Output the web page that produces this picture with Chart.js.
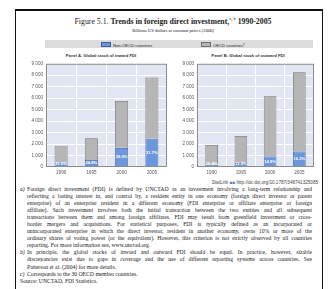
<!DOCTYPE html>
<html>
<head>
<meta charset="utf-8">
<title>Trends in foreign direct investment</title>
<script src="https://cdn.jsdelivr.net/npm/chart.js"></script>
<style>
  body { margin: 0; width: 332px; height: 289px; overflow: hidden; position: relative; background: #fff; font-family: "Liberation Serif", serif; color: #222; }
  #frame { position: absolute; left: 15px; top: 9px; width: 306px; height: 300px; border-top: 2px solid #111; border-left: 1.5px solid #111; border-right: 1.5px solid #111; }
  .abs { position: absolute; white-space: nowrap; }
  #title { left: 0; width: 346px; top: 16px; text-align: center; font-size: 7.8px; }
  #title sup { font-size: 4.5px; font-weight: normal; }
  #subtitle { left: 0; width: 346px; top: 28px; text-align: center; font-size: 4.6px; }
  #legend { left: 45px; top: 40px; width: 268px; height: 8px; background: #dcdcdc; }
  .key { position: absolute; top: 1.5px; font-family: "Liberation Sans", sans-serif; font-size: 4.2px; line-height: 5px; }
  .key i { display: inline-block; width: 8px; height: 3.5px; margin-right: 2px; vertical-align: -0.5px; border: 0.6px solid; }
  .ptitle { top: 53px; font-family: "Liberation Sans", sans-serif; font-weight: bold; font-size: 4.2px; transform: translateX(-50%); color: #333; }
  .wrap { position: absolute; }
  #stat { right: 14px; top: 180px; font-size: 4.6px; font-family: "Liberation Sans", sans-serif; color: #444; }
  #notes { position: absolute; left: 20px; top: 186px; width: 292px; font-size: 5.7px; line-height: 7.05px; }
  .fn { position: relative; padding-left: 7px; }
  .fn b { position: absolute; left: 0; font-weight: normal; font-style: italic; }
  .ln { display: block; text-align: justify; text-align-last: justify; white-space: nowrap; overflow: hidden; }
  .ln.last { text-align-last: left; }
</style>
</head>
<body>
<div id="frame"></div>

<div id="title" class="abs">Figure 5.1. <b>Trends in foreign direct investment,<sup>a, b</sup> 1990-2005</b></div>
<div id="subtitle" class="abs">Billions US dollars at constant prices (2000)</div>

<div id="legend" class="abs">
  <span class="key" style="left:56px"><i style="background:#6b98dc;border-color:#3b5b9c"></i>Non-OECD countries</span>
  <span class="key" style="left:156px"><i style="background:#b5b5b5;border-color:#6e6e6e"></i>OECD countries<sup style="font-size:3px">c</sup></span>
</div>

<div class="abs ptitle" style="left:101px">Panel A. Global stock of inward FDI</div>
<div class="abs ptitle" style="left:248px">Panel B. Global stock of outward FDI</div>

<div class="wrap" style="left:22px;top:58px"><canvas id="inward" width="148" height="120"></canvas></div>
<div class="wrap" style="left:173px;top:58px"><canvas id="outward" width="144" height="120"></canvas></div>

<div id="stat" class="abs"><i>StatLink</i> <b style="color:#5a7fb8">&#9632;&#9632;</b> http://dx.doi.org/10.1787/348741325085</div>

<div id="notes">
  <div class="fn"><b>a)</b>
    <span class="ln">Foreign direct investment (FDI) is defined by UNCTAD as an investment involving a long-term relationship and</span>
    <span class="ln">reflecting a lasting interest in, and control by, a resident entity in one economy (foreign direct investor or parent</span>
    <span class="ln">enterprise) of an enterprise resident in a different economy (FDI enterprise or affiliate enterprise or foreign</span>
    <span class="ln">affiliate). Such investment involves both the initial transaction between the two entities and all subsequent</span>
    <span class="ln">transactions between them and among foreign affiliates. FDI may result from greenfield investment or cross-</span>
    <span class="ln">border mergers and acquisitions. For statistical purposes, FDI is typically defined as an incorporated or</span>
    <span class="ln">unincorporated enterprise in which the direct investor, resident in another economy, owns 10% or more of the</span>
    <span class="ln">ordinary shares of voting power (or the equivalent). However, this criterion is not strictly observed by all countries</span>
    <span class="ln last">reporting. For more information see, www.unctad.org.</span>
  </div>
  <div class="fn"><b>b)</b>
    <span class="ln">In principle, the global stocks of inward and outward FDI should be equal. In practice, however, sizable</span>
    <span class="ln">discrepancies exist due to gaps in coverage and the use of different reporting systems across countries. See</span>
    <span class="ln last">Patterson et al. (2004) for more details.</span>
  </div>
  <div class="fn"><b>c)</b>
    <span class="ln last">Corresponds to the 30 OECD member countries.</span>
  </div>
  <div><span class="ln last">Source: UNCTAD, FDI Statistics.</span></div>
</div>

<script>
  // valeurs (milliards USD, prix 2000)
  const years = ['1990', '1995', '2000', '2005'];
  const yTicks = [0, 1000, 2000, 3000, 4000, 5000, 6000, 7000, 8000, 9000];

  const inwardNonOecd = [400, 620, 1670, 2470];
  const inwardOecd = [1450, 1880, 4090, 5330];
  const inwardShare = ['21.6%', '24.8%', '29.0%', '31.7%'];

  const outwardNonOecd = [200, 350, 920, 1350];
  const outwardOecd = [1730, 2350, 5250, 6920];
  const outwardShare = ['10.4%', '12.9%', '14.9%', '16.3%'];

  Chart.defaults.font.family = '"Liberation Sans", sans-serif';
  Chart.defaults.color = '#555';

  // fond bleuté + cadre de la zone de tracé
  const plotBg = {
    id: 'plotBg',
    beforeDraw(chart) {
      const { ctx, chartArea: a } = chart;
      ctx.save();
      ctx.fillStyle = '#e2e6f3';
      ctx.fillRect(a.left, a.top, a.width, a.height);
      ctx.restore();
    },
    afterDraw(chart) {
      const { ctx, chartArea: a } = chart;
      ctx.save();
      ctx.strokeStyle = '#8c8c8c';
      ctx.lineWidth = 1;
      ctx.strokeRect(a.left + 0.5, a.top + 0.5, a.width - 1, a.height - 1);
      ctx.restore();
    }
  };

  // pourcentages dans les segments non-OCDE
  const shareLabels = {
    id: 'shareLabels',
    afterDatasetsDraw(chart, args, opts) {
      const { ctx } = chart;
      const meta = chart.getDatasetMeta(0);
      ctx.save();
      ctx.font = 'bold 4.2px "Liberation Sans", sans-serif';
      ctx.fillStyle = '#ffffff';
      ctx.textAlign = 'center';
      ctx.textBaseline = 'middle';
      meta.data.forEach((bar, i) => {
        const y = Math.min((bar.y + bar.base) / 2, bar.base - 2.5);
        ctx.fillText(opts.labels[i], bar.x, y);
      });
      ctx.restore();
    }
  };

  function fmt(v) {
    return String(v).replace(/\B(?=(\d{3})+$)/g, ' ');
  }

  function makeChart(id, nonOecd, oecd, shares) {
    const ctx = document.getElementById(id).getContext('2d');
    return new Chart(ctx, {
      type: 'bar',
      data: {
        labels: years,
        datasets: [{
          label: 'Non-OECD countries',
          data: nonOecd,
          backgroundColor: '#6b98dc',
          borderColor: '#3b5b9c',
          borderWidth: 0.8,
          categoryPercentage: 1,
          barPercentage: 0.43
        }, {
          label: 'OECD countries',
          data: oecd,
          backgroundColor: '#b5b5b5',
          borderColor: '#6e6e6e',
          borderWidth: 0.8,
          categoryPercentage: 1,
          barPercentage: 0.43
        }]
      },
      options: {
        responsive: false,
        animation: false,
        devicePixelRatio: 1,
        layout: { padding: { top: 5, right: 3, left: 0, bottom: 0 } },
        plugins: {
          legend: { display: false },
          tooltip: { enabled: false },
          shareLabels: { labels: shares }
        },
        scales: {
          x: {
            stacked: true,
            grid: { color: '#ffffff', drawTicks: false, offset: true },
            border: { display: false },
            ticks: { font: { size: 4.6 }, padding: 3 },
            afterFit: s => { s.height = 11; }
          },
          y: {
            stacked: true,
            min: 0,
            max: 9000,
            afterBuildTicks: s => { s.ticks = yTicks.map(v => ({ value: v })); },
            grid: { color: '#ffffff', drawTicks: false },
            border: { display: false },
            ticks: { font: { size: 4.6 }, padding: 3, callback: v => fmt(v) },
            afterFit: s => { s.width = 24; }
          }
        }
      },
      plugins: [plotBg, shareLabels]
    });
  }

  makeChart('inward', inwardNonOecd, inwardOecd, inwardShare);
  makeChart('outward', outwardNonOecd, outwardOecd, outwardShare);
</script>
</body>
</html>
